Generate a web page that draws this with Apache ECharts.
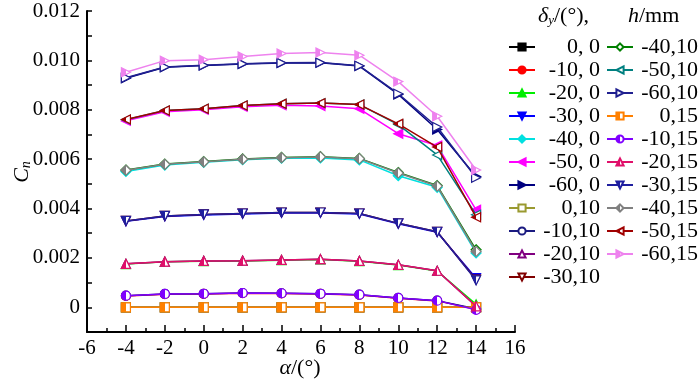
<!DOCTYPE html>
<html><head><meta charset="utf-8">
<script src="https://cdn.jsdelivr.net/npm/echarts@6/dist/echarts.min.js"></script>
<style>html,body{margin:0;padding:0;background:#fff}#c{width:700px;height:384px}</style>
</head><body><div id="c"></div>
<script>
// ---- data ----
const alpha = [-4, -2, 0, 2, 4, 6, 8, 10, 12, 14];
const xTickLabels = [-6, -4, -2, 0, 2, 4, 6, 8, 10, 12, 14, 16];
const yTickLabels = [0, 0.002, 0.004, 0.006, 0.008, 0.010, 0.012];
const seriesNames = ['0, 0', '-10, 0', '-20, 0', '-30, 0', '-40, 0', '-50, 0', '-60, 0',
  '0,10', '-10,10', '-20,10', '-30,10', '-40,10', '-50,10', '-60,10',
  '0,15', '-10,15', '-20,15', '-30,15', '-40,15', '-50,15', '-60,15'];

const cn_0_0   = [0, 0, 0, 0, 0, 0, 0, 0, 0, 0];
const cn_10_0  = [0.00046, 0.00053, 0.00054, 0.00057, 0.00056, 0.00054, 0.00050, 0.00037, 0.00026, -0.00008];
const cn_20_0  = [0.00175, 0.00184, 0.00187, 0.00188, 0.00191, 0.00194, 0.00187, 0.00171, 0.00147, 0.00012];
const cn_30_0  = [0.00348, 0.00368, 0.00374, 0.00378, 0.00382, 0.00382, 0.00378, 0.00338, 0.00304, 0.00118];
const cn_40_0  = [0.00550, 0.00576, 0.00587, 0.00598, 0.00604, 0.00605, 0.00597, 0.00533, 0.00486, 0.00220];
const cn_50_0  = [0.00755, 0.00792, 0.00800, 0.00812, 0.00818, 0.00815, 0.00804, 0.00703, 0.00655, 0.00395];
const cn_60_0  = [0.00928, 0.00972, 0.00979, 0.00985, 0.00989, 0.00990, 0.00977, 0.00862, 0.00720, 0.00530];
const cn_0_10  = [0, 0, 0, 0, 0, 0, 0, 0, 0, 0];
const cn_10_10 = [0.00047, 0.00054, 0.00055, 0.00058, 0.00057, 0.00055, 0.00051, 0.00038, 0.00027, -0.00006];
const cn_20_10 = [0.00176, 0.00185, 0.00188, 0.00189, 0.00192, 0.00195, 0.00188, 0.00172, 0.00148, 0.00004];
const cn_30_10 = [0.00350, 0.00370, 0.00376, 0.00380, 0.00384, 0.00384, 0.00380, 0.00340, 0.00306, 0.00112];
const cn_40_10 = [0.00556, 0.00580, 0.00590, 0.00601, 0.00607, 0.00610, 0.00603, 0.00546, 0.00493, 0.00233];
const cn_50_10 = [0.00760, 0.00797, 0.00804, 0.00817, 0.00824, 0.00827, 0.00821, 0.00740, 0.00617, 0.00375];
const cn_60_10 = [0.00930, 0.00973, 0.00980, 0.00986, 0.00990, 0.00991, 0.00978, 0.00865, 0.00730, 0.00525];
const cn_0_15  = [0, 0, 0, 0, 0, 0, 0, 0, 0, 0];
const cn_10_15 = [0.00047, 0.00054, 0.00055, 0.00058, 0.00057, 0.00055, 0.00051, 0.00038, 0.00027, -0.00010];
const cn_20_15 = [0.00176, 0.00185, 0.00188, 0.00189, 0.00192, 0.00195, 0.00188, 0.00172, 0.00148, 0.00004];
const cn_30_15 = [0.00350, 0.00370, 0.00376, 0.00380, 0.00384, 0.00384, 0.00380, 0.00340, 0.00306, 0.00109];
const cn_40_15 = [0.00555, 0.00579, 0.00589, 0.00600, 0.00606, 0.00609, 0.00602, 0.00544, 0.00491, 0.00226];
const cn_50_15 = [0.00761, 0.00797, 0.00804, 0.00817, 0.00824, 0.00827, 0.00821, 0.00743, 0.00649, 0.00365];
const cn_60_15 = [0.00952, 0.00999, 0.01003, 0.01016, 0.01028, 0.01032, 0.01021, 0.00914, 0.00774, 0.00556];

const allValues = [cn_0_0, cn_10_0, cn_20_0, cn_30_0, cn_40_0, cn_50_0, cn_60_0,
  cn_0_10, cn_10_10, cn_20_10, cn_30_10, cn_40_10, cn_50_10, cn_60_10,
  cn_0_15, cn_10_15, cn_20_15, cn_30_15, cn_40_15, cn_50_15, cn_60_15];

// ---- styles ----
const colors = ['#000000', '#ff0000', '#00ee00', '#0000ff', '#00e0e0', '#ff00ff', '#000080',
  '#9a9a30', '#1a1a80', '#800080', '#800000', '#008000', '#008080', '#202090',
  '#ff8000', '#8000ff', '#e0106a', '#1f1f9f', '#808080', '#a00000', '#ee82ee'];
const TRI_DOWN = 'path://M0,0 L10,0 L5,9 Z';
const TRI_LEFT = 'path://M9,0 L9,10 L0,5 Z';
const TRI_RIGHT = 'path://M0,0 L0,10 L9,5 Z';
const shapes = ['rect', 'circle', 'triangle', TRI_DOWN, 'diamond', TRI_LEFT, TRI_RIGHT];

const FONT = 'Liberation Serif';
const series = seriesNames.map((name, i) => {
  const c = colors[i];
  const kind = Math.floor(i / 7); // 0 filled, 1 open, 2 half
  let fill = c;
  if (kind === 1) fill = '#ffffff';
  if (kind === 2) fill = new echarts.graphic.LinearGradient(0, 0, 1, 0, [
    { offset: 0, color: c }, { offset: 0.5, color: c },
    { offset: 0.5, color: '#ffffff' }, { offset: 1, color: '#ffffff' }]);
  return {
    name: name,
    type: 'line',
    data: alpha.map((a, k) => [a, allValues[i][k]]),
    symbol: shapes[i % 7],
    symbolSize: (i % 7 === 4) ? 10 : 9,
    lineStyle: { color: c, width: 1.5 },
    itemStyle: { color: fill, borderColor: c, borderWidth: 1.2 },
    emphasis: { disabled: true },
    z: 2 + i
  };
});

const legendCommon = {
  orient: 'vertical',
  padding: 0,
  itemWidth: 26,
  itemHeight: 9,
  itemGap: 1,
  selectedMode: false,
  formatter: n => '{t|' + n + '}',
  textStyle: {
    fontFamily: FONT, fontSize: 22, color: '#000', lineHeight: 20,
    rich: { t: { fontFamily: FONT, fontSize: 22, width: 60, align: 'right', lineHeight: 20 } }
  }
};

const chart = echarts.init(document.getElementById('c'), null, { renderer: 'canvas' });
chart.setOption({
  animation: false,
  backgroundColor: '#fff',
  grid: { left: 87, top: 11, width: 428, height: 321, containLabel: false },
  legend: [
    Object.assign({}, legendCommon, { left: 508, top: 36, data: seriesNames.slice(0, 11) }),
    Object.assign({}, legendCommon, { left: 606, top: 36, data: seriesNames.slice(11) })
  ],
  xAxis: {
    type: 'value', min: -6, max: 16, interval: 2,
    axisLine: { show: true, onZero: false, lineStyle: { color: '#000', width: 2 } },
    axisTick: { show: true, inside: true, length: 7, lineStyle: { color: '#000', width: 1.5 } },
    minorTick: { show: true, splitNumber: 2, length: 4, lineStyle: { color: '#000', width: 1.5 } },
    axisLabel: { fontFamily: FONT, fontSize: 21, color: '#000', margin: 6,
      formatter: v => String(v) },
    splitLine: { show: false }
  },
  yAxis: {
    type: 'value', min: -0.001, max: 0.012, interval: 0.001,
    axisLine: { show: true, onZero: false, lineStyle: { color: '#000', width: 2 } },
    axisTick: { show: true, inside: true, length: 5, lineStyle: { color: '#000', width: 1.5 } },
    axisLabel: { customValues: yTickLabels, fontFamily: FONT, fontSize: 21, color: '#000', margin: 7,
      formatter: v => (Math.abs(v) < 1e-9 ? '0' : v.toFixed(3)) },
    splitLine: { show: false }
  },
  graphic: [
    { type: 'text', left: 538, top: 5, style: {
        text: '{i|δ}{s|y}{n|/(°),}', fill: '#000',
        rich: { i: { fontFamily: FONT, fontSize: 22, fontStyle: 'italic' },
                s: { fontFamily: FONT, fontSize: 13, fontStyle: 'italic', verticalAlign: 'bottom', padding: [10, 0, 0, 0] },
                n: { fontFamily: FONT, fontSize: 22 } } } },
    { type: 'text', left: 628, top: 5, style: {
        text: '{i|h}{n|/mm}', fill: '#000',
        rich: { i: { fontFamily: FONT, fontSize: 22, fontStyle: 'italic' },
                n: { fontFamily: FONT, fontSize: 22 } } } },
    { type: 'text', x: 22, y: 172, rotation: Math.PI / 2, style: {
        text: '{i|C}{s|n}', fill: '#000', align: 'center', verticalAlign: 'middle',
        rich: { i: { fontFamily: FONT, fontSize: 22, fontStyle: 'italic' },
                s: { fontFamily: FONT, fontSize: 14, fontStyle: 'italic', padding: [8, 0, 0, 0] } } } },
    { type: 'text', x: 300, y: 368, style: {
        text: '{i|α}{n|/(°)}', fill: '#000', align: 'center', verticalAlign: 'middle',
        rich: { i: { fontFamily: FONT, fontSize: 22, fontStyle: 'italic' },
                n: { fontFamily: FONT, fontSize: 22 } } } }
  ],
  series: series
});
</script></body></html>
